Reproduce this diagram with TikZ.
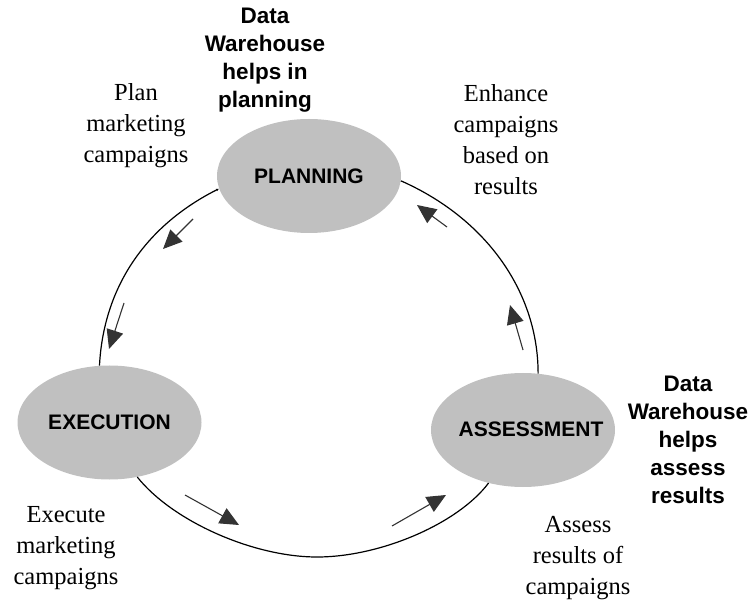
\documentclass[tikz,border=0pt]{standalone}
\usepackage{fontspec}
\setmainfont{Liberation Serif}
\setsansfont{Liberation Sans}
\usetikzlibrary{shapes.geometric,arrows.meta}
\definecolor{ellgray}{RGB}{192,192,192}
\definecolor{arrgray}{RGB}{51,51,51}
\begin{document}
\begin{tikzpicture}[x=1pt,y=1pt,
  phase/.style={ellipse, fill=ellgray, minimum width=184pt, minimum height=114pt, inner sep=0pt},
  phasetext/.style={font=\sffamily\bfseries\fontsize{21}{25}\selectfont},
  dwtext/.style={font=\sffamily\bfseries\fontsize{22.5}{28}\selectfont, align=center},
  note/.style={font=\fontsize{24.5}{31}\selectfont, align=center},
  cycleline/.style={line width=1.2pt, black},
  flow/.style={draw=arrgray, line width=1.1pt, -{Triangle[length=19pt,width=17pt]}}
]
\useasboundingbox (0,0) rectangle (752,600);

% phases
\node[phase, phasetext] (plan) at (309,424) {PLANNING};
\node[phase, phasetext] (exec) at (109.5,177.5) {EXECUTION};
\node[phase] (assess) at (523,170) {};
\node[phasetext] (assesstxt) at (531,171) {ASSESSMENT};

% cycle connectors
\coordinate (bot) at (317,43);
\draw[cycleline, {Latex[length=3pt,width=3pt]}-] (plan.-172) .. controls +(-75,-38) and +(4,77) .. (exec.100);
\draw[cycleline] (exec.-63) .. controls +(35,-44) and +(-64,0) .. (bot)
  .. controls +(63,0) and +(-31,-41) .. (assess.-123);
\draw[cycleline] (assess.75) .. controls +(0,81) and +(86,-38) .. (plan.-3);

% flow arrows
\coordinate (a1s) at (193,381); \coordinate (a1e) at (163,351);
\coordinate (a2s) at (124,297); \coordinate (a2e) at (109,251);
\coordinate (a3s) at (447,373); \coordinate (a3e) at (417,395);
\coordinate (a4s) at (523,250); \coordinate (a4e) at (510,295);
\coordinate (a5s) at (185,105); \coordinate (a5e) at (239,75);
\coordinate (a6s) at (392,74);  \coordinate (a6e) at (446,105);
\draw[flow] (a1s) -- (a1e);
\draw[flow] (a2s) -- (a2e);
\draw[flow] (a3s) -- (a3e);
\draw[flow] (a4s) -- (a4e);
\draw[flow] (a5s) -- (a5e);
\draw[flow] (a6s) -- (a6e);

% labels
\node[dwtext] (dwplan) at (265,540) {Data\\Warehouse\\helps in\\planning};
\node[dwtext] (dwassess) at (688,160) {Data\\Warehouse\\helps\\assess\\results};
\node[note] (plannote) at (136,474) {Plan\\marketing\\campaigns};
\node[note] (enhnote) at (506,460) {Enhance\\campaigns\\based on\\results};
\node[note] (execnote) at (66,52) {Execute\\marketing\\campaigns};
\node[note] (assnote) at (578,42) {Assess\\results of\\campaigns};
\end{tikzpicture}
\end{document}
